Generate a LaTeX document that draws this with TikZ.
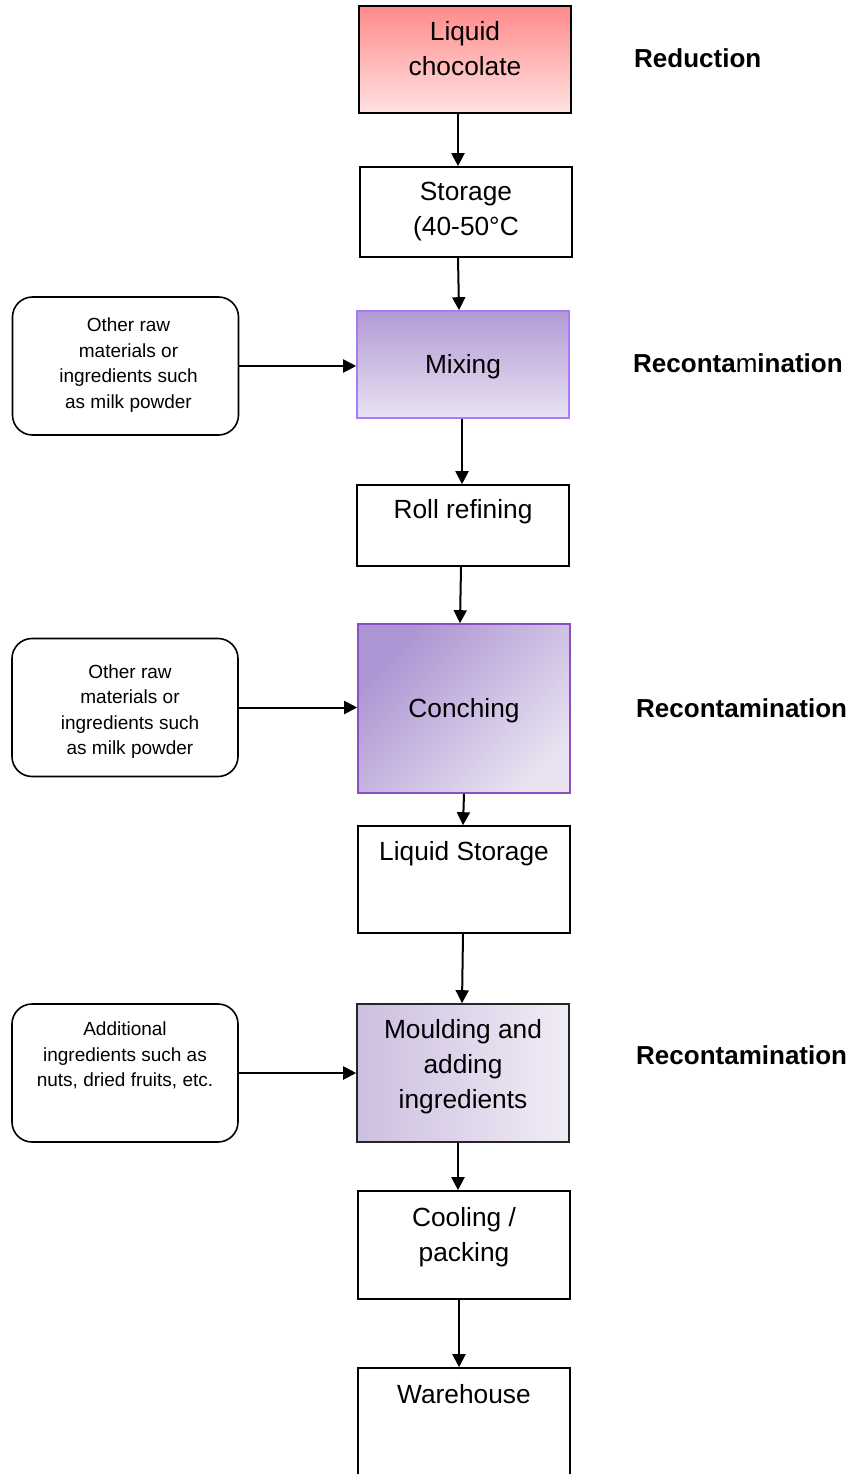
\documentclass[tikz,border=0pt]{standalone}
\usepackage{fontspec}
\setmainfont{Liberation Sans}
\usetikzlibrary{arrows.meta}
\definecolor{chocTop}{HTML}{FF8A8A}
\definecolor{chocBot}{HTML}{FFE2E2}
\definecolor{mixTop}{HTML}{B29AD5}
\definecolor{mixBot}{HTML}{E8E2F2}
\definecolor{mixLine}{HTML}{A77BF5}
\definecolor{conTL}{HTML}{AD94D3}
\definecolor{conBR}{HTML}{E8E2F1}
\definecolor{conLine}{HTML}{8A4FC0}
\definecolor{mouL}{HTML}{CDBFE0}
\definecolor{mouR}{HTML}{F1ECF6}
\begin{document}
\begin{tikzpicture}[x=1pt,y=-1pt,
  box/.style={draw=black, line width=1.6pt, minimum width=212pt, inner sep=0pt},
  txt/.style={font=\fontsize{26.3}{35}\selectfont, align=center, inner sep=0pt},
  side/.style={draw=black, line width=1.6pt, rounded corners=20pt, minimum width=226pt, minimum height=138pt, inner sep=0pt},
  stxt/.style={font=\fontsize{19}{25.5}\selectfont, align=center, inner sep=0pt},
  lab/.style={font=\fontsize{26}{30}\selectfont, anchor=west, inner sep=0pt},
  arr/.style={line width=2pt, -{Triangle[length=13pt,width=13pt]}},
]
\useasboundingbox (0,0) rectangle (850,1474);
\clip (0,0) rectangle (850,1474);

% main column
\node[box, minimum height=107pt, top color=chocTop, bottom color=chocBot,
  label={[txt,yshift=10.5pt]center:Liquid\\chocolate}] (choc) at (465,59.5) {};
\node[box, minimum height=90pt,
  label={[txt,yshift=0.5pt]center:Storage\\(40-50°C}] (stor) at (466,212) {};
\node[box, draw=mixLine, minimum height=107pt, top color=mixTop, bottom color=mixBot,
  label={[txt,yshift=-2.5pt]center:Mixing}] (mix) at (463,364.5) {};
\node[box, minimum height=81pt,
  label={[txt,yshift=13.5pt]center:Roll refining}] (roll) at (463,525.5) {};
\node[box, draw=conLine, minimum height=169pt, top color=conTL, bottom color=conBR, shading angle=45,
  label={[txt,yshift=-2pt]center:Conching}] (conch) at (464,708.5) {};
\node[box, minimum height=107pt,
  label={[txt,yshift=25.5pt]center:Liquid Storage}] (lstor) at (464,879.5) {};
\node[box, draw=black!85, minimum height=138pt, left color=mouL, right color=mouR,
  label={[txt,yshift=6pt]center:Moulding and\\adding\\ingredients}] (mould) at (463,1073) {};
\node[box, minimum height=108pt,
  label={[txt,yshift=7.5pt]center:Cooling /\\packing}] (cool) at (464,1245) {};
\node[box, minimum height=110pt,
  label={[txt,yshift=29pt]center:Warehouse}] (ware) at (464,1423) {};

% side boxes
\node[side, label={[stxt,xshift=3pt,yshift=1pt]center:Other raw\\materials or\\ingredients such\\as milk powder}] (s1) at (125.5,366) {};
\node[side, label={[stxt,xshift=5pt,yshift=-4pt]center:Other raw\\materials or\\ingredients such\\as milk powder}] (s2) at (125,707.5) {};
\node[side, label={[stxt,yshift=17.5pt]center:Additional\\ingredients such as\\nuts, dried fruits, etc.}] (s3) at (125,1073) {};

% right labels
\node[lab] (l1) at (634,58) {\bfseries Reduction};
\node[lab] (l2) at (633,363) {{\bfseries Reconta}m{\bfseries ination}};
\node[lab] (l3) at (636,708) {\bfseries Recontamination};
\node[lab] (l4) at (636,1055) {\bfseries Recontamination};

% main arrows
\draw[arr] (choc.south -| 458,0) -- (stor.north -| 458,0);
\draw[arr] (stor.south -| 458,0) -- (mix.north -| 459,0);
\draw[arr] (mix.south -| 462,0) -- (roll.north -| 462,0);
\draw[arr] (roll.south -| 461,0) -- (conch.north -| 460,0);
\draw[arr] (conch.south -| 464,0) -- (lstor.north -| 463,0);
\draw[arr] (lstor.south -| 463,0) -- (mould.north -| 462,0);
\draw[arr] (mould.south -| 458,0) -- (cool.north -| 458,0);
\draw[arr] (cool.south -| 459,0) -- (ware.north -| 459,0);

% side arrows
\draw[arr] (s1.east) -- (s1.east -| mix.west);
\draw[arr] (s2.east) -- (s2.east -| conch.west);
\draw[arr] (s3.east) -- (s3.east -| mould.west);
\end{tikzpicture}
\end{document}
